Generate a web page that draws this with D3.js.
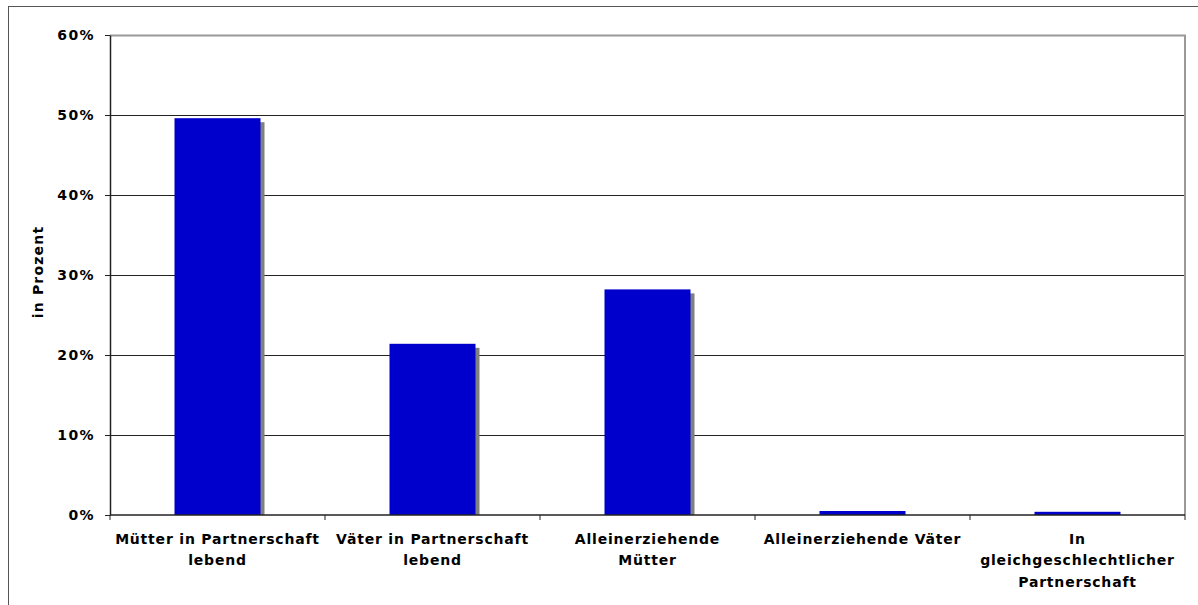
<!DOCTYPE html>
<html><head><meta charset="utf-8">
<script src="https://cdn.jsdelivr.net/npm/d3@7"></script>
<style>body{margin:0;background:#fff}svg{display:block}</style>
</head><body>
<svg id="c" width="1198" height="605"></svg>
<script>
const categories = [
  ["Mütter in Partnerschaft", "lebend"],
  ["Väter in Partnerschaft", "lebend"],
  ["Alleinerziehende", "Mütter"],
  ["Alleinerziehende Väter"],
  ["In", "gleichgeschlechtlicher", "Partnerschaft"]
];
const values = [49.6, 21.4, 28.2, 0.5, 0.4];
const yTicks = [0, 10, 20, 30, 40, 50, 60];
const yTitle = "in Prozent";

const svg = d3.select("#c");
const font = "Verdana, 'DejaVu Sans', sans-serif";
const L = 110, R = 1185, T = 35, B = 515;

svg.append("rect").attr("x", 8.5).attr("y", 6.5).attr("width", 1300).attr("height", 700)
  .attr("fill", "none").attr("stroke", "#555").attr("stroke-width", 1);

const x = d3.scaleBand().domain(d3.range(categories.length)).range([L, R]).paddingInner(0).paddingOuter(0);
const y = d3.scaleLinear().domain([0, 60]).range([B, T]);

// gridlines
svg.append("g").selectAll("line").data(yTicks.filter(d => d > 0 && d < 60)).join("line")
  .attr("x1", L).attr("x2", R).attr("y1", d => Math.round(y(d)) + 0.5).attr("y2", d => Math.round(y(d)) + 0.5)
  .attr("stroke", "#222").attr("stroke-width", 1);

// plot border (top/right)
svg.append("path").attr("d", `M${L},${T + 0.5}H${R}V${B}`).attr("fill", "none")
  .attr("stroke", "#999").attr("stroke-width", 2);

const bw = x.bandwidth() * 0.4;
const g = svg.append("g");
// shadows
g.selectAll("rect.sh").data(values).join("rect").attr("class", "sh")
  .attr("x", (d, i) => x(i) + (x.bandwidth() - bw) / 2 + 4)
  .attr("y", d => y(d) + 4)
  .attr("width", bw)
  .attr("height", d => Math.max(0, B - y(d) - 4))
  .attr("fill", "#808080");
g.selectAll("rect.bar").data(values).join("rect").attr("class", "bar")
  .attr("x", (d, i) => x(i) + (x.bandwidth() - bw) / 2)
  .attr("y", d => y(d))
  .attr("width", bw)
  .attr("height", d => B - y(d))
  .attr("fill", "#0000CC");

// y axis
const ya = svg.append("g").attr("transform", `translate(${L},0)`)
  .call(d3.axisLeft(y).tickValues(yTicks).tickFormat(d => d + "%").tickSize(5).tickSizeOuter(0));
ya.select(".domain").attr("stroke", "#222").attr("stroke-width", 1.5);
ya.selectAll(".tick line").attr("stroke", "#222");
ya.selectAll(".tick text").attr("font-family", font).attr("font-weight", "bold")
  .attr("font-size", 14).attr("letter-spacing", "1.4px").attr("fill", "#000").attr("x", -15);

// x axis
const xa = svg.append("g").attr("transform", `translate(0,${B})`);
xa.append("line").attr("x1", L).attr("x2", R).attr("y1", 0).attr("y2", 0).attr("stroke", "#222").attr("stroke-width", 1.5);
xa.selectAll("line.t").data(d3.range(categories.length + 1)).join("line").attr("class", "t")
  .attr("x1", i => L + i * x.bandwidth()).attr("x2", i => L + i * x.bandwidth())
  .attr("y1", 0).attr("y2", 5).attr("stroke", "#222");
const lab = xa.selectAll("text").data(categories).join("text")
  .attr("text-anchor", "middle").attr("font-family", font).attr("font-weight", "bold")
  .attr("font-size", 14).attr("letter-spacing", "0.8px").attr("fill", "#000");
lab.each(function (lines, i) {
  const t = d3.select(this);
  lines.forEach((s, k) => t.append("tspan").attr("x", x(i) + x.bandwidth() / 2).attr("y", 29 + k * 21.3).text(s));
});

svg.append("text").attr("transform", `translate(43,${(T + B) / 2 - 3}) rotate(-90)`)
  .attr("text-anchor", "middle").attr("font-family", font).attr("font-weight", "bold")
  .attr("font-size", 14).attr("letter-spacing", "1.2px").text(yTitle);
</script>
</body></html>
